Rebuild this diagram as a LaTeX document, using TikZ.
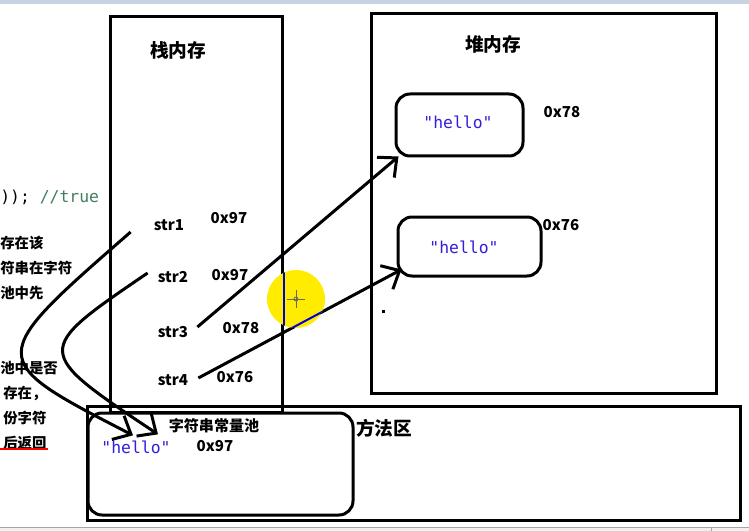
\documentclass[tikz,border=0pt]{standalone}
\usepackage{fontspec}
\newfontfamily\cjk{Noto Sans CJK SC}
\newfontfamily\codefont{DejaVu Sans Mono}
\usetikzlibrary{arrows.meta,positioning}
\definecolor{pBlue}{RGB}{50,30,220}
\definecolor{pGreen}{RGB}{63,127,95}
\definecolor{pYellow}{RGB}{255,236,0}
\definecolor{pBar}{RGB}{197,211,226}
\definecolor{pPanel}{RGB}{240,240,240}
\tikzset{
    box/.style={draw, line width=2.25pt, inner sep=0pt},
    rbox/.style={box, rounded corners=10.5pt},
    head/.style={font=\cjk\bfseries\fontsize{14}{16}\selectfont, inner sep=0pt},
    lab/.style={font=\cjk\bfseries\fontsize{11.3}{13}\selectfont, inner sep=0pt},
    note/.style={font=\cjk\bfseries\fontsize{10.8}{12}\selectfont, inner sep=0pt, anchor=west},
    strv/.style={font=\codefont\fontsize{12.3}{14}\selectfont, text=pBlue, inner sep=0pt},
    ref/.style={line width=2.25pt, -{Straight Barb[length=11pt,width=20pt]}}
}

\begin{document}
\begin{tikzpicture}[x=0.75pt,y=-0.75pt]
\useasboundingbox (0,0) rectangle (749,531);
\fill[pBar] (0,0) rectangle (749,4);
\fill[pPanel] (0,527) rectangle (749,531);
\draw[gray!70, line width=0.75pt] (0,527) -- (749,527) (711,527) -- (711,531);
% memory areas
\node[box, minimum width=129pt, minimum height=296.25pt] (stack) at (196,214.5) {};
\node[box, minimum width=258.75pt, minimum height=284.25pt] (heap) at (543.5,203.5) {};
\node[box, minimum width=489.75pt, minimum height=85.5pt] (method) at (413.5,463) {};
\node[rbox, minimum width=198.75pt, minimum height=76.5pt] (pool) at (220.5,464) {};
\node[rbox, minimum width=95.25pt, minimum height=46.5pt] (obj78) at (459.5,125) {};
\node[rbox, minimum width=107.25pt, minimum height=44.25pt] (obj76) at (469.5,246.5) {};
\node[head] (stackT) at (178,50) {栈内存};
\node[head] (heapT) at (493,44) {堆内存};
\node[head] (methodT) at (384,428) {方法区};
\node[lab] (poolT) at (214,426) {字符串常量池};
% string objects
\node[strv] (v78) at (458,122) {"hello"};
\node[strv] (v76) at (464,247) {"hello"};
\node[strv] (v97) at (136,447) {"hello"};
\node[lab] (a78) at (562,112) {0x78};
\node[lab] (a76) at (561,225) {0x76};
\node[lab] (a97) at (215,446) {0x97};
% references on the stack
\node[lab] (s1) at (169,225) {str1};
\node[lab] (s2) at (173,277) {str2};
\node[lab] (s3) at (173,332) {str3};
\node[lab] (s4) at (173,380) {str4};
\node[lab] (r1) at (229,218) {0x97};
\node[lab] (r2) at (230,275) {0x97};
\node[lab] (r3) at (241,328) {0x78};
\node[lab] (r4) at (235,377) {0x76};
% text left behind from the editor
\node[anchor=west, inner sep=0pt, font=\codefont\fontsize{12.3}{14}\selectfont] (code) at (0,197) {)); \textcolor{pGreen}{//true}};
\node[note] (t1) at (0,243) {存在该};
\node[note] (t2) at (0,268) {符串在字符};
\node[note] (t3) at (0,293) {池中先};
\node[note] (t4) at (0,368) {池中是否};
\node[note] (t5) at (3,393) {存在，};
\node[note] (t6) at (3,418) {份字符};
\node[note] (t7) at (3,443) {后返回};
\draw[red, line width=1.5pt] (0,449) -- (48,449);
\fill (381.5,309.5) rectangle (384.5,312.5);
% references
\draw[ref] ([shift={(-23,7)}]s1.west) .. controls (-15,359) .. ([shift={(-3,-5)}]v97.north);
\draw[ref] ([shift={(-10,-4)}]s2.west) .. controls (33,351) .. ([shift={(22,-6)}]v97.north);
\draw[ref] ([shift={(9,-5)}]s3.east) -- ([shift={(4,-1)}]obj78.south west);
\draw[ref] ([shift={(10,-2)}]s4.east) -- ([shift={(5,-8)}]obj76.south west);
% pointer highlight
\fill[pYellow] (296,299) circle[radius=21.75pt];
\begin{scope}
\clip (296,299) circle[radius=21.75pt];
\draw[blue!85!black, line width=1.5pt] (stack.north east) -- (stack.south east);
\draw[blue!85!black, line width=1.5pt] ([shift={(10,-2)}]s4.east) -- ([shift={(5,-8)}]obj76.south west);
\end{scope}
\draw[black!60, line width=0.6pt] (287,299) -- (305,299) (296,290) -- (296,308);
\draw[black!60, line width=0.6pt] (296,299) circle[radius=1.5pt];
\end{tikzpicture}
\end{document}
